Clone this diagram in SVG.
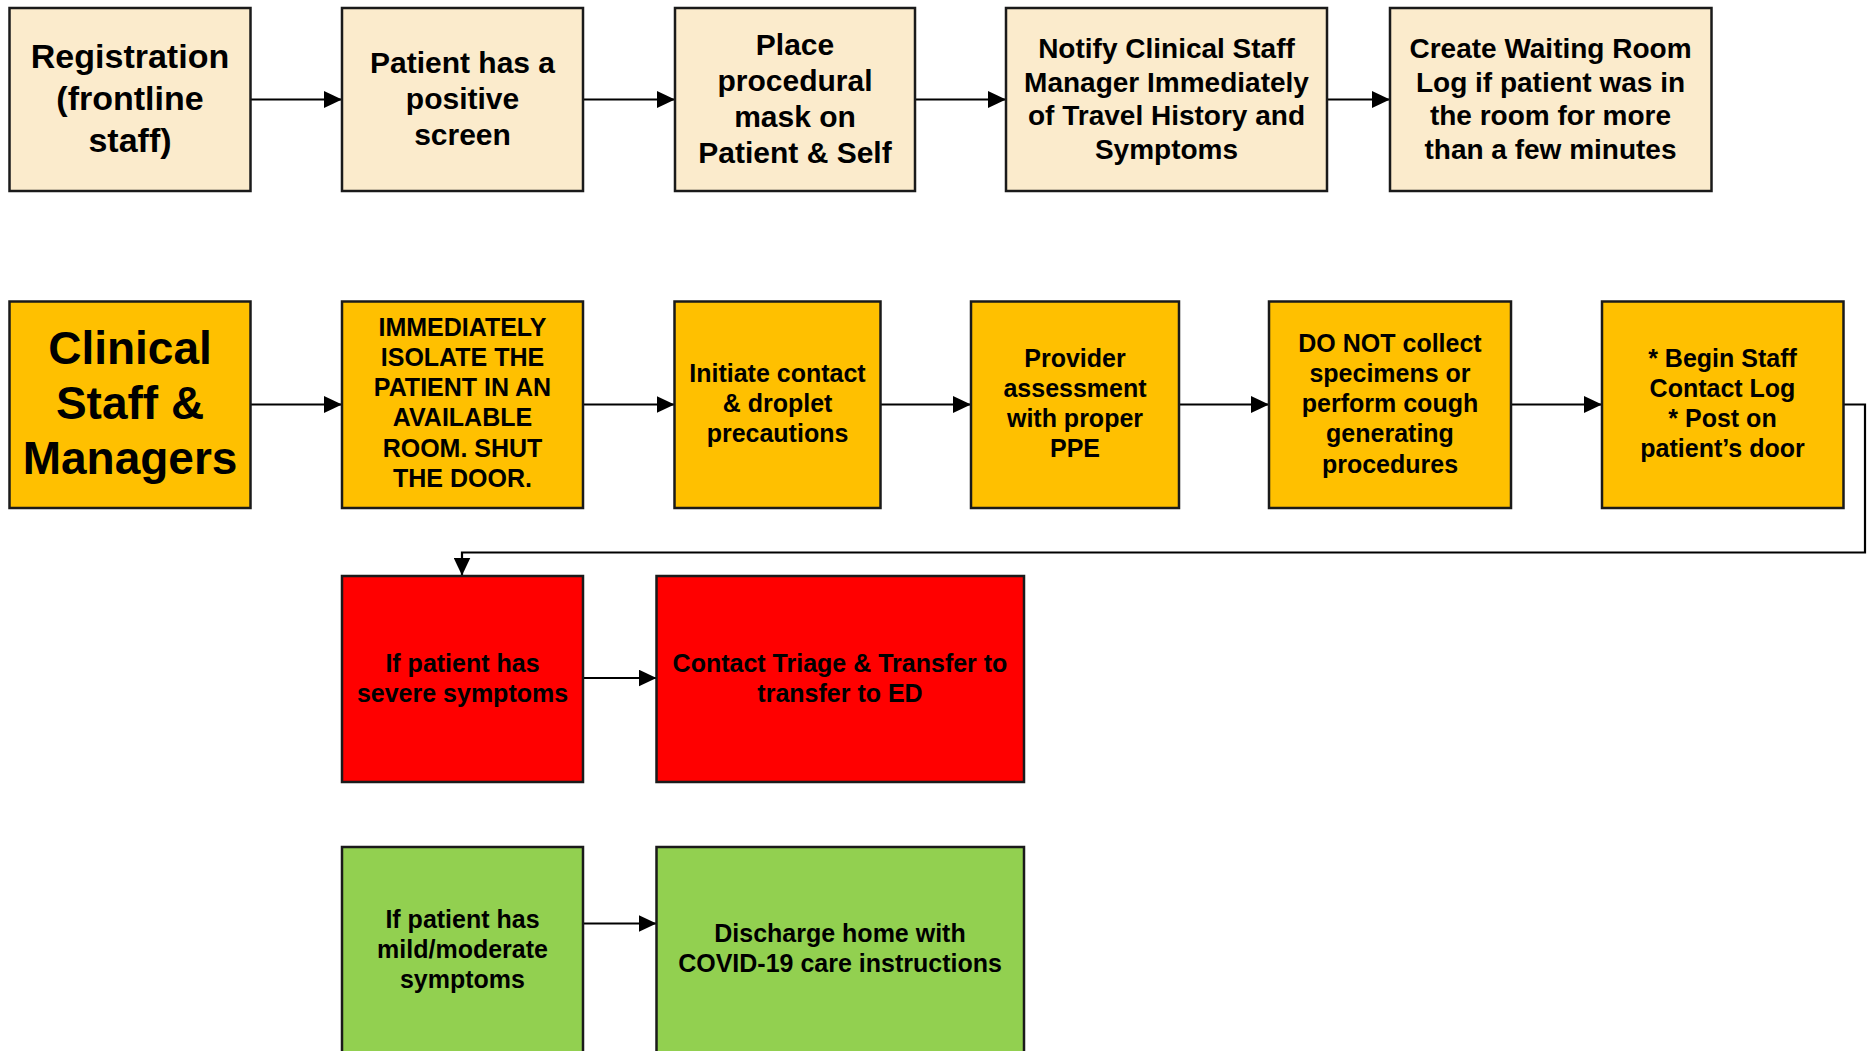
<svg xmlns="http://www.w3.org/2000/svg" width="1869" height="1051" viewBox="0 0 1869 1051">
<style>
  .box { stroke: #1a1a1a; stroke-width: 2.5; }
  .tan { fill: #FBEBCC; }
  .org { fill: #FFC000; }
  .red { fill: #FF0000; }
  .grn { fill: #92D050; }
  text { font-family: "Liberation Sans", Arial, sans-serif; font-weight: bold; fill: #000; text-anchor: middle; }
  .f34 { font-size: 34px; }
  .f30 { font-size: 30px; }
  .f28 { font-size: 28px; }
  .f25 { font-size: 25px; }
  .f46 { font-size: 46px; }
  .conn { stroke: #000; stroke-width: 2.2; fill: none; marker-end: url(#arr); }
</style>
<defs>
  <marker id="arr" markerUnits="userSpaceOnUse" markerWidth="18" markerHeight="17" refX="18" refY="8.5" orient="auto">
    <path d="M0,0 L18,8.5 L0,17 Z" fill="#000"/>
  </marker>
</defs>
<rect width="1869" height="1051" fill="#fff"/>

<g id="connectors">
  <path class="conn" d="M250.5,99.5 H342"/>
  <path class="conn" d="M583,99.5 H675"/>
  <path class="conn" d="M915,99.5 H1006"/>
  <path class="conn" d="M1327,99.5 H1390"/>
  <path class="conn" d="M250.5,404.5 H342"/>
  <path class="conn" d="M583,404.5 H674.5"/>
  <path class="conn" d="M880.5,404.5 H971"/>
  <path class="conn" d="M1179,404.5 H1269"/>
  <path class="conn" d="M1511,404.5 H1602"/>
  <path class="conn" d="M1843.5,404.5 H1865 V552.5 H462 V575.5"/>
  <path class="conn" d="M583,678 H656.5"/>
  <path class="conn" d="M583,923.5 H656.5"/>
</g>

<g id="registration">
  <rect class="box tan" x="9.5" y="8" width="241" height="183"/>
  <text class="f34" x="130" y="68">Registration<tspan x="130" dy="42">(frontline</tspan><tspan x="130" dy="42">staff)</tspan></text>
</g>
<g id="positive-screen">
  <rect class="box tan" x="342" y="8" width="241" height="183"/>
  <text class="f30" x="462.5" y="73">Patient has a<tspan x="462.5" dy="36">positive</tspan><tspan x="462.5" dy="36">screen</tspan></text>
</g>
<g id="place-mask">
  <rect class="box tan" x="675" y="8" width="240" height="183"/>
  <text class="f30" x="795" y="55">Place<tspan x="795" dy="36">procedural</tspan><tspan x="795" dy="36">mask on</tspan><tspan x="795" dy="36">Patient &amp; Self</tspan></text>
</g>
<g id="notify-manager">
  <rect class="box tan" x="1006" y="8" width="321" height="183"/>
  <text class="f28" x="1166.5" y="58">Notify Clinical Staff<tspan x="1166.5" dy="33.7">Manager Immediately</tspan><tspan x="1166.5" dy="33.7">of Travel History and</tspan><tspan x="1166.5" dy="33.7">Symptoms</tspan></text>
</g>
<g id="waiting-room-log">
  <rect class="box tan" x="1390" y="8" width="321.5" height="183"/>
  <text class="f28" x="1550.5" y="58">Create Waiting Room<tspan x="1550.5" dy="33.7">Log if patient was in</tspan><tspan x="1550.5" dy="33.7">the room for more</tspan><tspan x="1550.5" dy="33.7">than a few minutes</tspan></text>
</g>

<g id="clinical-staff">
  <rect class="box org" x="9.5" y="301.5" width="241" height="206.5"/>
  <text class="f46" x="130" y="364">Clinical<tspan x="130" dy="55">Staff &amp;</tspan><tspan x="130" dy="55">Managers</tspan></text>
</g>
<g id="isolate">
  <rect class="box org" x="342" y="301.5" width="241" height="206.5"/>
  <text class="f25" x="462.5" y="335.5">IMMEDIATELY<tspan x="462.5" dy="30.3">ISOLATE THE</tspan><tspan x="462.5" dy="30.3">PATIENT IN AN</tspan><tspan x="462.5" dy="30.3">AVAILABLE</tspan><tspan x="462.5" dy="30.3">ROOM. SHUT</tspan><tspan x="462.5" dy="30.3">THE DOOR.</tspan></text>
</g>
<g id="precautions">
  <rect class="box org" x="674.5" y="301.5" width="206" height="206.5"/>
  <text class="f25" x="777.5" y="382">Initiate contact<tspan x="777.5" dy="30">&amp; droplet</tspan><tspan x="777.5" dy="30">precautions</tspan></text>
</g>
<g id="provider-assessment">
  <rect class="box org" x="971" y="301.5" width="208" height="206.5"/>
  <text class="f25" x="1075" y="366.5">Provider<tspan x="1075" dy="30.3">assessment</tspan><tspan x="1075" dy="30.3">with proper</tspan><tspan x="1075" dy="30.3">PPE</tspan></text>
</g>
<g id="do-not-collect">
  <rect class="box org" x="1269" y="301.5" width="242" height="206.5"/>
  <text class="f25" x="1390" y="351.5">DO NOT collect<tspan x="1390" dy="30.3">specimens or</tspan><tspan x="1390" dy="30.3">perform cough</tspan><tspan x="1390" dy="30.3">generating</tspan><tspan x="1390" dy="30.3">procedures</tspan></text>
</g>
<g id="contact-log">
  <rect class="box org" x="1602" y="301.5" width="241.5" height="206.5"/>
  <text class="f25" x="1722.5" y="366.5">* Begin Staff<tspan x="1722.5" dy="30.3">Contact Log</tspan><tspan x="1722.5" dy="30.3">* Post on</tspan><tspan x="1722.5" dy="30.3">patient’s door</tspan></text>
</g>

<g id="severe">
  <rect class="box red" x="342" y="576" width="241" height="206"/>
  <text class="f25" x="462.5" y="672">If patient has<tspan x="462.5" dy="30">severe symptoms</tspan></text>
</g>
<g id="transfer-ed">
  <rect class="box red" x="656.5" y="576" width="367.5" height="206"/>
  <text class="f25" x="840" y="672">Contact Triage &amp; Transfer to<tspan x="840" dy="30">transfer to ED</tspan></text>
</g>

<g id="mild">
  <rect class="box grn" x="342" y="847" width="241" height="215"/>
  <text class="f25" x="462.5" y="928">If patient has<tspan x="462.5" dy="30">mild/moderate</tspan><tspan x="462.5" dy="30">symptoms</tspan></text>
</g>
<g id="discharge">
  <rect class="box grn" x="656.5" y="847" width="367.5" height="215"/>
  <text class="f25" x="840" y="942">Discharge home with<tspan x="840" dy="30">COVID-19 care instructions</tspan></text>
</g>
</svg>
